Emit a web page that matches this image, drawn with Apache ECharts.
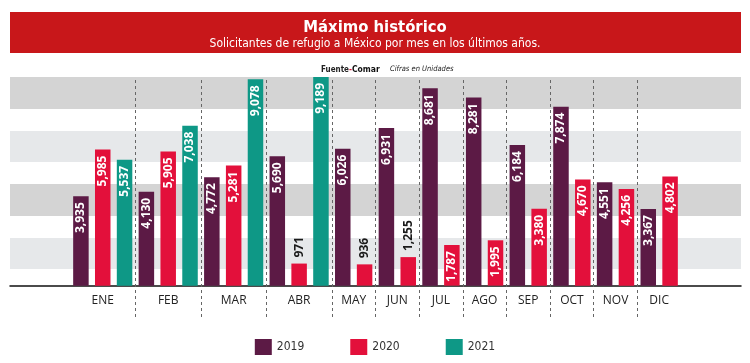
<!DOCTYPE html>
<html>
<head>
<meta charset="utf-8">
<script src="https://cdn.jsdelivr.net/npm/echarts@6/dist/echarts.min.js"></script>
<style>html,body{margin:0;padding:0;background:#fff}#c{width:750px;height:363px}</style>
</head>
<body>
<div id="c"></div>
<script>
const months = ['ENE','FEB','MAR','ABR','MAY','JUN','JUL','AGO','SEP','OCT','NOV','DIC'];
const years = ['2019','2020','2021'];
const v2019 = [3935, 4130, 4772, 5690, 6026, 6931, 8681, 8281, 6184, 7874, 4551, 3367];
const v2020 = [5985, 5905, 5281, 971, 936, 1255, 1787, 1995, 3380, 4670, 4256, 4802];
const v2021 = [5537, 7038, 9078, 9189, null, null, null, null, null, null, null, null];
const colors = ['#5c1a45', '#e3103b', '#0e9886'];

const NARROW = '"Liberation Sans Narrow","DejaVu Sans Condensed","Open Sans",sans-serif';
const seriesVals = [v2019, v2020, v2021];

// slot positions derived from the data (one slot per bar present)
let slot = 0;
const pos = [[], [], []];
const centers = [];
const bounds = [];
months.forEach((m, i) => {
  const start = slot;
  seriesVals.forEach((arr, s) => {
    if (arr[i] != null) { pos[s].push([slot, arr[i]]); slot++; }
  });
  centers.push((start + slot - 1) / 2);
  if (i < months.length - 1) bounds.push(slot - 0.5);
});

function fmt(v) { return v.toLocaleString('en-US'); }

function itemLabel(v) {
  if (v < 1500) {
    return { show: true, position: 'top', rotate: 90, align: 'left', verticalAlign: 'middle', distance: 6,
      color: '#1a1a1a', fontWeight: 'bold', fontSize: 12, fontFamily: '"Open Sans",sans-serif', formatter: () => fmt(v) };
  }
  return { show: true, position: 'insideTop', rotate: 90, align: 'right', verticalAlign: 'middle', distance: 6,
    color: '#ffffff', fontWeight: 'bold', fontSize: 12, fontFamily: '"Open Sans",sans-serif', formatter: () => fmt(v) };
}

const barSeries = years.map((y, s) => ({
  name: y,
  type: 'bar',
  barWidth: 15.5,
  barGap: '-100%',
  z: 3,
  itemStyle: { color: colors[s] },
  data: pos[s].map(p => ({ value: p, label: itemLabel(p[1]) }))
}));

const chart = echarts.init(document.getElementById('c'), null, { renderer: 'canvas' });
chart.setOption({
  animation: false,
  backgroundColor: '#ffffff',
  graphic: [
    { type: 'rect', z: -1, shape: { x: 10, y: 12, width: 731, height: 41 }, style: { fill: '#c8171a' } }
  ],
  title: [
    { text: 'Máximo histórico', left: 'center', top: 14,
      textStyle: { color: '#fff', fontSize: 16.5, fontWeight: 'bold', fontFamily: NARROW } },
    { text: 'Solicitantes de refugio a México por mes en los últimos años.', left: 'center', top: 33,
      textStyle: { color: '#fff', fontSize: 12, fontWeight: 'normal', fontFamily: NARROW } },
    { text: '{a|Fuente}{r|-}{b|Comar}', left: 316, top: 60,
      textStyle: { rich: {
        a: { fontSize: 8, color: '#222', fontFamily: NARROW },
        r: { fontSize: 8, color: '#e3103b', fontWeight: 'bold', fontFamily: NARROW },
        b: { fontSize: 8.5, color: '#111', fontWeight: 'bold', fontFamily: NARROW } } } },
    { text: 'Cifras en Unidades', left: 385, top: 60,
      textStyle: { fontSize: 7.5, color: '#222', fontStyle: 'italic', fontWeight: 'normal', fontFamily: NARROW } }
  ],
  legend: {
    data: years, top: 334, left: 'center', icon: 'rect', itemWidth: 17, itemHeight: 16, itemGap: 46,
    textStyle: { fontSize: 12, color: '#333', fontFamily: NARROW }
  },
  grid: { left: 10, right: 9, top: 77, bottom: 46 },
  xAxis: {
    type: 'value', min: -3.25, max: 30.25, interval: 0.25,
    axisLine: { show: true, onZero: true, lineStyle: { color: '#111', width: 1.5 } },
    axisTick: { show: false }, splitLine: { show: false },
    axisLabel: {
      margin: -22, fontSize: 12, color: '#222', fontFamily: '"Open Sans",sans-serif',
      formatter: v => { const k = centers.findIndex(c => Math.abs(c - v) < 0.01); return k >= 0 ? months[k] : ''; }
    }
  },
  yAxis: { type: 'value', min: -1380, max: 9180, show: false, splitLine: { show: false } },
  series: [
    { name: 'bands', type: 'line', data: [], z: 0, silent: true,
      markArea: { silent: true, label: { show: false },
        data: [
          [{ yAxis: 730, itemStyle: { color: '#e6e8ea' } }, { yAxis: 2100 }],
          [{ yAxis: 3060, itemStyle: { color: '#d4d4d4' } }, { yAxis: 4470 }],
          [{ yAxis: 5440, itemStyle: { color: '#e6e8ea' } }, { yAxis: 6800 }],
          [{ yAxis: 7770, itemStyle: { color: '#d4d4d4' } }, { yAxis: 9180 }]
        ] } },
    { name: 'dividers', type: 'line', data: [], z: 1, silent: true,
      markLine: { silent: true, symbol: ['none', 'none'], label: { show: false },
        lineStyle: { type: [3, 3], color: '#666', width: 1 },
        data: bounds.map(b => ({ xAxis: b })) } },
    ...barSeries
  ]
});
</script>
</body>
</html>
